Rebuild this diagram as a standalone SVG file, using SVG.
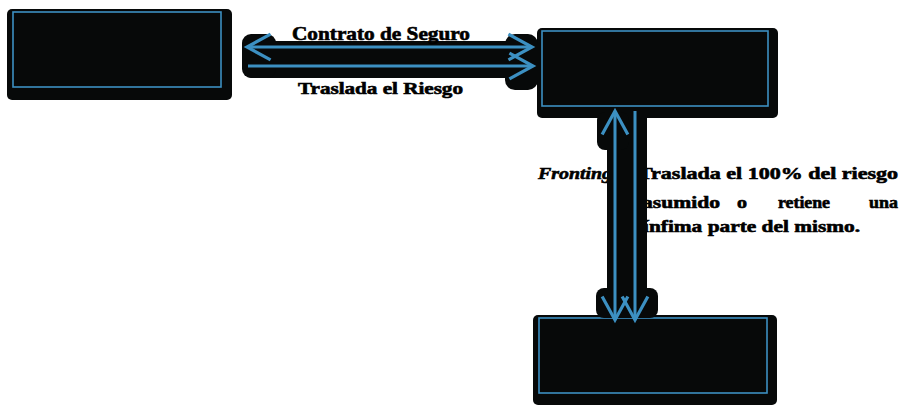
<svg xmlns="http://www.w3.org/2000/svg" width="903" height="407" viewBox="0 0 903 407">
  <style>
    .box { fill: #070909; }
    .inner { fill: none; stroke: #3c90c2; stroke-width: 1.6; }
    .halo { fill: #070909; }
    .line { fill: none; stroke: #3c90c2; stroke-width: 3; }
    .lbl { font-family: "Liberation Serif", "Times New Roman", serif; font-weight: bold; fill: #000; stroke: #000; stroke-width: 0.6; }
  </style>
  <defs>
    <marker id="head" markerUnits="userSpaceOnUse" markerWidth="30" markerHeight="30" viewBox="-24 -14 28 28" refX="0" refY="0" orient="auto-start-reverse">
      <path d="M-22,-12 L0,0 L-22,12" fill="none" stroke="#3c90c2" stroke-width="3"/>
    </marker>
  </defs>

  <g id="node-left">
    <rect class="box" x="7" y="9" width="225" height="91" rx="5"/>
    <rect class="inner" x="13" y="12" width="208" height="75"/>
  </g>
  <g id="node-right-top">
    <rect class="box" x="537" y="28" width="241" height="90" rx="5"/>
    <rect class="inner" x="542" y="31" width="226" height="75"/>
  </g>
  <g id="node-right-bottom">
    <rect class="box" x="533" y="315" width="244" height="90" rx="5"/>
    <rect class="inner" x="539" y="318" width="228" height="75"/>
  </g>

  <g id="labels-behind">
    <text class="lbl" x="538" y="179" font-size="17" font-style="italic" textLength="74" lengthAdjust="spacingAndGlyphs">Fronting</text>
    <text class="lbl" x="638" y="179" font-size="17" textLength="260" lengthAdjust="spacingAndGlyphs">Traslada el 100% del riesgo</text>
    <text class="lbl" x="642" y="208" font-size="17" textLength="78" lengthAdjust="spacingAndGlyphs">asumido</text>
    <text class="lbl" x="737" y="208" font-size="17" textLength="10" lengthAdjust="spacingAndGlyphs">o</text>
    <text class="lbl" x="778" y="208" font-size="17" textLength="52" lengthAdjust="spacingAndGlyphs">retiene</text>
    <text class="lbl" x="869" y="208" font-size="17" textLength="29" lengthAdjust="spacingAndGlyphs">una</text>
    <text class="lbl" x="643" y="232" font-size="17" textLength="217" lengthAdjust="spacingAndGlyphs">ínfima parte del mismo.</text>
  </g>

  <g id="connectors">
    <rect class="halo" x="243" y="41" width="294" height="37" rx="9"/>
    <rect class="halo" x="505" y="34" width="33" height="56" rx="10"/>
    <rect class="halo" x="242" y="34" width="34" height="44" rx="9"/>
    <rect class="halo" x="607" y="108" width="40" height="210"/>
    <rect class="halo" x="597" y="112" width="32" height="38" rx="8"/>
    <rect class="halo" x="596" y="288" width="62" height="30" rx="8"/>
    <line class="line" x1="247" y1="47" x2="532" y2="47" marker-start="url(#head)" marker-end="url(#head)"/>
    <line class="line" x1="248" y1="66" x2="533" y2="66" marker-end="url(#head)"/>
    <line class="line" x1="615" y1="111" x2="615" y2="320" marker-start="url(#head)" marker-end="url(#head)"/>
    <line class="line" x1="635" y1="111" x2="635" y2="320" marker-end="url(#head)"/>
  </g>

  <g id="labels-top">
    <text class="lbl" x="292" y="40" font-size="18" textLength="178" lengthAdjust="spacingAndGlyphs">Contrato de Seguro</text>
    <text class="lbl" x="298" y="94" font-size="17" textLength="165" lengthAdjust="spacingAndGlyphs">Traslada el Riesgo</text>
  </g>
</svg>
